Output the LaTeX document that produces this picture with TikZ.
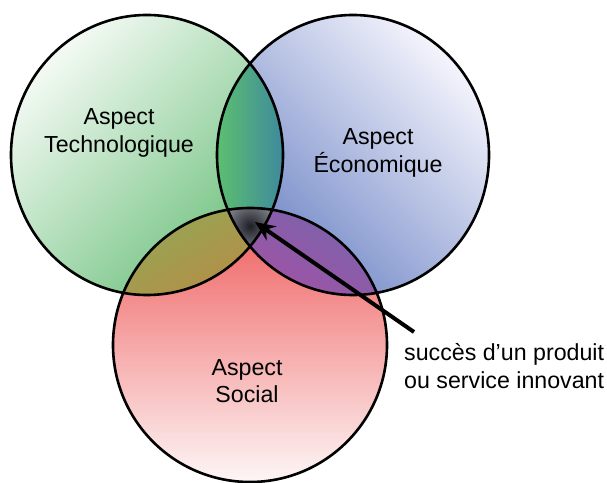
\documentclass[tikz,border=0pt]{standalone}
\usepackage{fontspec}
\setmainfont{Liberation Sans}
\usetikzlibrary{arrows.meta}
\definecolor{gLight}{HTML}{F4FAF4}
\definecolor{gDark}{HTML}{6CC07C}
\definecolor{bLight}{HTML}{F4F4FC}
\definecolor{bDark}{HTML}{6A82C4}
\definecolor{rTop}{HTML}{EF5A5A}
\definecolor{rBot}{HTML}{FDF6F6}
\definecolor{lensL}{HTML}{5CBF70}
\definecolor{lensM}{HTML}{38B896}
\definecolor{lensR}{HTML}{3E8A9C}
\definecolor{grA}{HTML}{90AA55}
\definecolor{grB}{HTML}{BC8845}
\definecolor{brA}{HTML}{7466AC}
\definecolor{brB}{HTML}{A84FA4}
\definecolor{triIn}{HTML}{1E1E26}
\definecolor{triOut}{HTML}{8C8C96}
\tikzset{
  outline/.style={draw=black, line width=2.6pt},
  label/.style={font=\fontsize{23.2}{27.5}\selectfont, align=center, text=black},
  note/.style={font=\fontsize{23.2}{28}\selectfont, align=left, text=black, inner sep=0pt, anchor=west},
  pointer/.style={line width=4pt, -{Stealth[length=20pt, width=17pt]}}
}
\begin{document}
\begin{tikzpicture}[x=1pt,y=1pt]
\useasboundingbox (0,0) rectangle (607,482);
% base circles
\shade[top color=gLight, bottom color=gDark, shading angle=45] (147,327) ellipse [x radius=136pt, y radius=140pt];
\shade[top color=bLight, bottom color=bDark, shading angle=-45] (353,327) ellipse [x radius=136pt, y radius=140pt];
\shade[top color=rTop, bottom color=rBot] (250,137) ellipse [x radius=137pt, y radius=137pt];
% green & blue
\begin{scope}
  \clip (147,327) ellipse [x radius=136pt, y radius=140pt];
  \clip (353,327) ellipse [x radius=136pt, y radius=140pt];
  \shade[left color=lensL, middle color=lensM, right color=lensR] (217,180) rectangle (283,470);
\end{scope}
% green & red
\begin{scope}
  \clip (147,327) ellipse [x radius=136pt, y radius=140pt];
  \clip (250,137) ellipse [x radius=137pt, y radius=137pt];
  \shade[top color=grA, bottom color=grB, shading angle=30] (110,180) rectangle (290,280);
\end{scope}
% blue & red
\begin{scope}
  \clip (353,327) ellipse [x radius=136pt, y radius=140pt];
  \clip (250,137) ellipse [x radius=137pt, y radius=137pt];
  \shade[top color=brA, bottom color=brB, shading angle=-30] (215,180) rectangle (390,280);
\end{scope}
% triple
\begin{scope}
  \clip (147,327) ellipse [x radius=136pt, y radius=140pt];
  \clip (353,327) ellipse [x radius=136pt, y radius=140pt];
  \clip (250,137) ellipse [x radius=137pt, y radius=137pt];
  \shade[inner color=triIn, outer color=triOut] (250,256) circle (28pt);
\end{scope}
% outlines
\draw[outline] (147,327) ellipse [x radius=136pt, y radius=140pt];
\draw[outline] (353,327) ellipse [x radius=136pt, y radius=140pt];
\draw[outline] (250,137) ellipse [x radius=137pt, y radius=137pt];
% labels
\node[label] (tech) at (119,349) {Aspect\\Technologique};
\node[label] (eco) at (378,329) {Aspect\\Économique};
\node[label] (soc) at (247,101) {Aspect\\Social};
\node[note] (succ) at (404,116) {succès d’un produit\\ou service innovant};
\coordinate (tail) at (414,150);
\coordinate (tip) at (255,260);
\draw[pointer] (tail) -- (tip);
\end{tikzpicture}
\end{document}
